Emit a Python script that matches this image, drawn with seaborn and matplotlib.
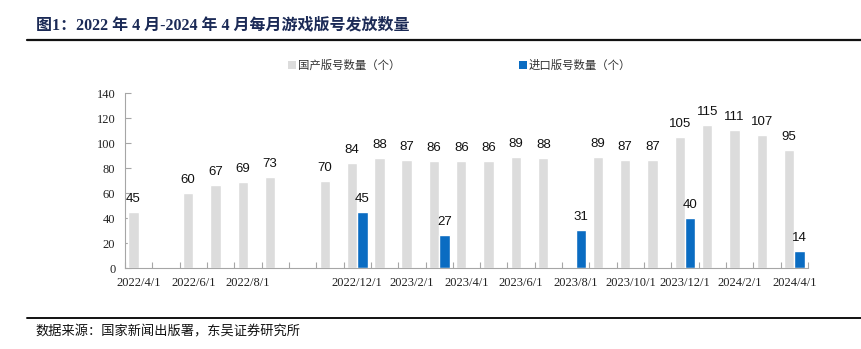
import matplotlib
matplotlib.use("Agg")
import matplotlib.pyplot as plt
from matplotlib.lines import Line2D
from matplotlib.patches import Rectangle
import numpy as np
import pandas as pd
import seaborn as sns

# Monthly game licence approvals, Apr 2022 - Apr 2024 (0 = no batch that month)
months = ["2022/4/1", "2022/5/1", "2022/6/1", "2022/7/1", "2022/8/1", "2022/9/1",
          "2022/10/1", "2022/11/1", "2022/12/1", "2023/1/1", "2023/2/1", "2023/3/1",
          "2023/4/1", "2023/5/1", "2023/6/1", "2023/7/1", "2023/8/1", "2023/9/1",
          "2023/10/1", "2023/11/1", "2023/12/1", "2024/1/1", "2024/2/1", "2024/3/1",
          "2024/4/1"]
domestic = [45, 0, 60, 67, 69, 73, 0, 70, 84, 88, 87, 86, 86, 86, 89, 88, 0, 89,
            87, 87, 105, 115, 111, 107, 95]
imported = [0, 0, 0, 0, 0, 0, 0, 0, 45, 0, 0, 27, 0, 0, 0, 0, 31, 0, 0, 0, 40, 0,
            0, 0, 14]
# Axis labels shown every other month (the 2022/10/1 slot is left blank)
tick_labels = ["2022/4/1", "2022/6/1", "2022/8/1", "", "2022/12/1", "2023/2/1",
               "2023/4/1", "2023/6/1", "2023/8/1", "2023/10/1", "2023/12/1",
               "2024/2/1", "2024/4/1"]
series_names = ["国产版号数量（个）", "进口版号数量（个）"]
colors = {series_names[0]: "#DCDCDC", series_names[1]: "#0A6CC2"}

df = pd.DataFrame({
    "month": months * 2,
    "value": domestic + imported,
    "series": [series_names[0]] * len(months) + [series_names[1]] * len(months),
})

sns.set_theme(style="white")
plt.rcParams["font.family"] = ["Liberation Serif", "Noto Sans CJK SC", "DejaVu Sans"]

fig = plt.figure(figsize=(8.61, 3.49), dpi=100)
ax = fig.add_axes([0.1452, 0.2312, 0.7932, 0.5015])

sns.barplot(data=df, x="month", y="value", hue="series", order=months,
            hue_order=series_names, palette=colors, width=0.76, dodge=True,
            gap=0, saturation=1, legend=False, ax=ax)

# Value labels above each non-empty bar
for cont in ax.containers:
    labels = [f"{int(round(b.get_height()))}" if b.get_height() > 0 else ""
              for b in cont]
    ax.bar_label(cont, labels=labels, padding=5, fontsize=9.5,
                 family="Liberation Sans", color="#111111")

axis_grey = "#A6A6A6"
ax.set_ylim(0, 140)
ax.set_yticks(np.arange(0, 141, 20))
ax.set_xlim(-0.5, len(months) - 0.5)
ax.set_xticks(np.arange(0, len(months), 2))
ax.set_xticklabels(tick_labels)
ax.set_xticks(np.arange(-0.5, len(months), 1), minor=True)
ax.tick_params(axis="x", which="major", length=0, pad=6, labelsize=9,
               colors="#222222")
ax.tick_params(axis="x", which="minor", direction="in", length=4, width=0.8,
               color=axis_grey, bottom=True)
ax.tick_params(axis="y", direction="in", length=4, width=0.8, color=axis_grey,
               labelsize=9, labelcolor="#222222", pad=7, left=True)
for lab in ax.get_xticklabels() + ax.get_yticklabels():
    lab.set_family("Liberation Serif")
ax.set_xlabel("")
ax.set_ylabel("")
for side in ["top", "right"]:
    ax.spines[side].set_visible(False)
for side in ["left", "bottom"]:
    ax.spines[side].set_color(axis_grey)
    ax.spines[side].set_linewidth(0.8)
ax.grid(False)

# Legend drawn as two separate entries across the top
W, H = 861, 349
def fx(px):
    return px / W
def fy(py):
    return 1 - py / H

for x0, name in [(288, series_names[0]), (519, series_names[1])]:
    fig.add_artist(Rectangle((fx(x0), fy(69)), 8 / W, 8 / H,
                             transform=fig.transFigure,
                             facecolor=colors[name], edgecolor="none"))
    fig.text(fx(x0 + 10), fy(65), name, fontsize=8.2, va="center", ha="left",
             family=["Noto Sans CJK SC"], color="#333333")

# Title and source lines
fig.text(fx(36), fy(25), "图1：2022 年 4 月-2024 年 4 月每月游戏版号发放数量",
         fontsize=11.5, fontweight="bold", color="#1B2A56", va="center",
         ha="left", family=["Liberation Serif", "Noto Sans CJK SC"])
fig.add_artist(Line2D([fx(27), 1.0], [fy(40), fy(40)], transform=fig.transFigure,
                      color="#111111", linewidth=1.6))
fig.add_artist(Line2D([fx(27), 1.0], [fy(318), fy(318)], transform=fig.transFigure,
                      color="#111111", linewidth=1.4))
fig.text(fx(35), fy(332), "数据来源：国家新闻出版署，东吴证券研究所", fontsize=9.5,
         color="#111111", va="center", ha="left", family=["Noto Sans CJK SC"])

fig.savefig("out.png", dpi=100)
